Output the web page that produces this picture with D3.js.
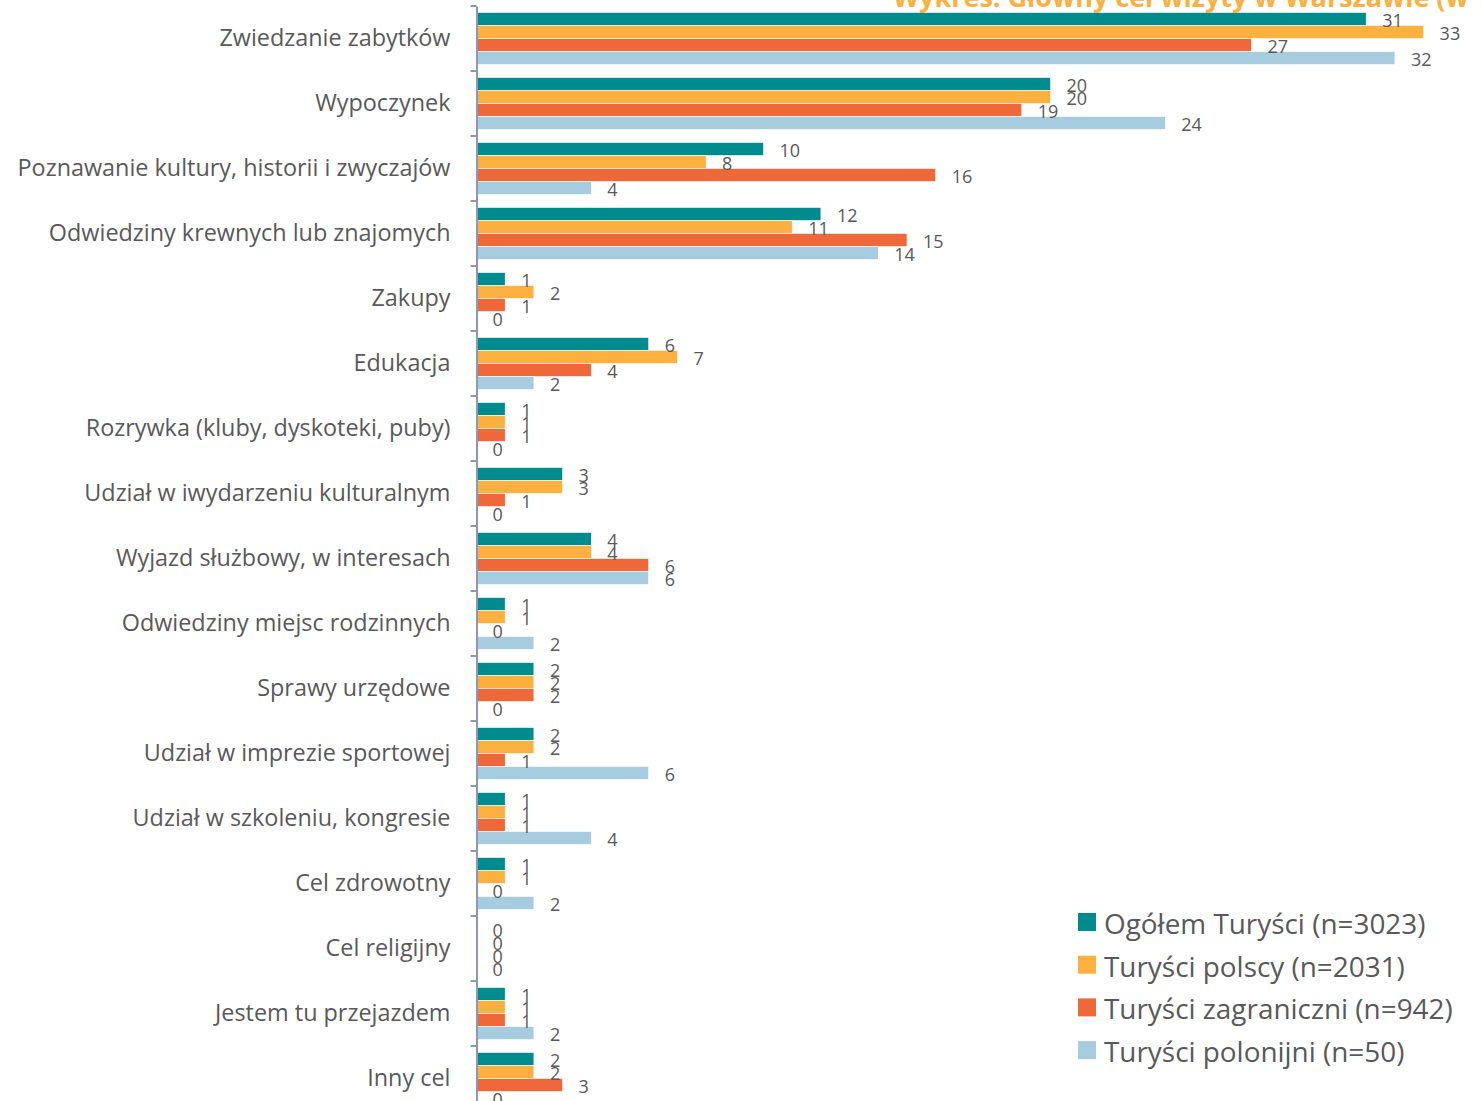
<!DOCTYPE html>
<html>
<head>
<meta charset="utf-8">
<script src="https://cdn.jsdelivr.net/npm/d3@7"></script>
<style>
  body { margin: 0; background: #fff; }
  text { font-family: "Open Sans", sans-serif; }
</style>
</head>
<body>
<div id="chart"></div>
<script>
// data
var categories = [
    "Zwiedzanie zabytków",
    "Wypoczynek",
    "Poznawanie kultury, historii i zwyczajów",
    "Odwiedziny krewnych lub znajomych",
    "Zakupy",
    "Edukacja",
    "Rozrywka (kluby, dyskoteki, puby)",
    "Udział w iwydarzeniu kulturalnym",
    "Wyjazd służbowy, w interesach",
    "Odwiedziny miejsc rodzinnych",
    "Sprawy urzędowe",
    "Udział w imprezie sportowej",
    "Udział w szkoleniu, kongresie",
    "Cel zdrowotny",
    "Cel religijny",
    "Jestem tu przejazdem",
    "Inny cel"
];
var seriesNames = [
    "Ogółem Turyści (n=3023)",
    "Turyści polscy (n=2031)",
    "Turyści zagraniczni (n=942)",
    "Turyści polonijni (n=50)"
];
var ogolem      = [31, 20, 10, 12, 1, 6, 1, 3, 4, 1, 2, 2, 1, 1, 0, 1, 2];
var polscy      = [33, 20, 8, 11, 2, 7, 1, 3, 4, 1, 2, 2, 1, 1, 0, 1, 2];
var zagraniczni = [27, 19, 16, 15, 1, 4, 1, 1, 6, 0, 2, 1, 1, 0, 0, 1, 3];
var polonijni   = [32, 24, 4, 14, 0, 2, 0, 0, 6, 2, 0, 6, 4, 2, 0, 2, 0];
var titleText = "Wykres: Główny cel wizyty w Warszawie (w %)";

var colors = ["#008B8F", "#FBB040", "#EE6839", "#A8CCDF"];
var seriesValues = [ogolem, polscy, zagraniczni, polonijni];

var svgWidth = 1481;
var svgHeight = 1101;

var svg = d3.select("#chart")
    .append("svg")
    .attr("width", svgWidth)
    .attr("height", svgHeight);

// scales
var axisX = 476.5;
var xScale = d3.scaleLinear()
    .domain([0, 35])
    .range([axisX, axisX + 35 * 28.7]);

var yScale = d3.scaleBand()
    .domain(categories)
    .range([6, 6 + categories.length * 65])
    .padding(0);

var ySub = d3.scaleBand()
    .domain(d3.range(seriesNames.length))
    .range([0, yScale.bandwidth()])
    .paddingInner(0)
    .paddingOuter(0.5);

// rows
var rows = categories.map(function(c, i) {
    return { cat: c, vals: seriesValues.map(function(s) { return s[i]; }) };
});

var groups = svg.selectAll("g.cat")
    .data(rows)
    .enter()
    .append("g")
    .attr("class", "cat")
    .attr("transform", d => `translate(0, ${yScale(d.cat)})`);

groups.selectAll("rect")
    .data(d => d.vals)
    .enter()
    .append("rect")
    .attr("x", xScale(0))
    .attr("y", (d, i) => ySub(i))
    .attr("width", d => xScale(d) - xScale(0))
    .attr("height", ySub.bandwidth())
    .attr("fill", (d, i) => colors[i])
    .attr("stroke", "#fff")
    .attr("stroke-width", 0.6);

groups.selectAll("text.val")
    .data(d => d.vals)
    .enter()
    .append("text")
    .attr("class", "val")
    .attr("x", d => xScale(d) + 16)
    .attr("y", (d, i) => ySub(i) + ySub.bandwidth() / 2 + 1)
    .attr("dominant-baseline", "central")
    .attr("font-size", "18px")
    .attr("fill", "#595959")
    .text(d => d);

// axis
var yAxis = d3.axisLeft(yScale).tickSize(0).tickPadding(26);
var axisG = svg.append("g")
    .attr("transform", `translate(${axisX}, 0)`)
    .call(yAxis);
axisG.select(".domain")
    .attr("stroke", "#8E97B3")
    .attr("stroke-width", 2);
axisG.selectAll(".tick text")
    .attr("font-size", "23.4px")
    .attr("fill", "#595959")
    .style("font-family", "'Open Sans', sans-serif");

// tick marks between categories
svg.append("g")
    .selectAll("line")
    .data(categories)
    .enter()
    .append("line")
    .attr("x1", axisX - 6)
    .attr("x2", axisX)
    .attr("y1", d => yScale(d))
    .attr("y2", d => yScale(d))
    .attr("stroke", "#8E97B3")
    .attr("stroke-width", 2);

// title (cut off at the top, as in the picture)
svg.append("text")
    .attr("x", 893)
    .attr("y", 7)
    .attr("font-size", "27px")
    .attr("font-weight", "bold")
    .attr("fill", "#FBB040")
    .text(titleText);

// legend
var legend = svg.append("g")
    .attr("transform", "translate(1078, 922)");

var legendItems = legend.selectAll("g")
    .data(seriesNames)
    .enter()
    .append("g")
    .attr("transform", (d, i) => `translate(0, ${i * 42.7})`);

legendItems.append("rect")
    .attr("x", 0)
    .attr("y", -9)
    .attr("width", 18)
    .attr("height", 18)
    .attr("fill", (d, i) => colors[i]);

legendItems.append("text")
    .attr("x", 26)
    .attr("y", 1)
    .attr("dominant-baseline", "central")
    .attr("font-size", "27.9px")
    .attr("fill", "#595959")
    .text(d => d);
</script>
</body>
</html>
